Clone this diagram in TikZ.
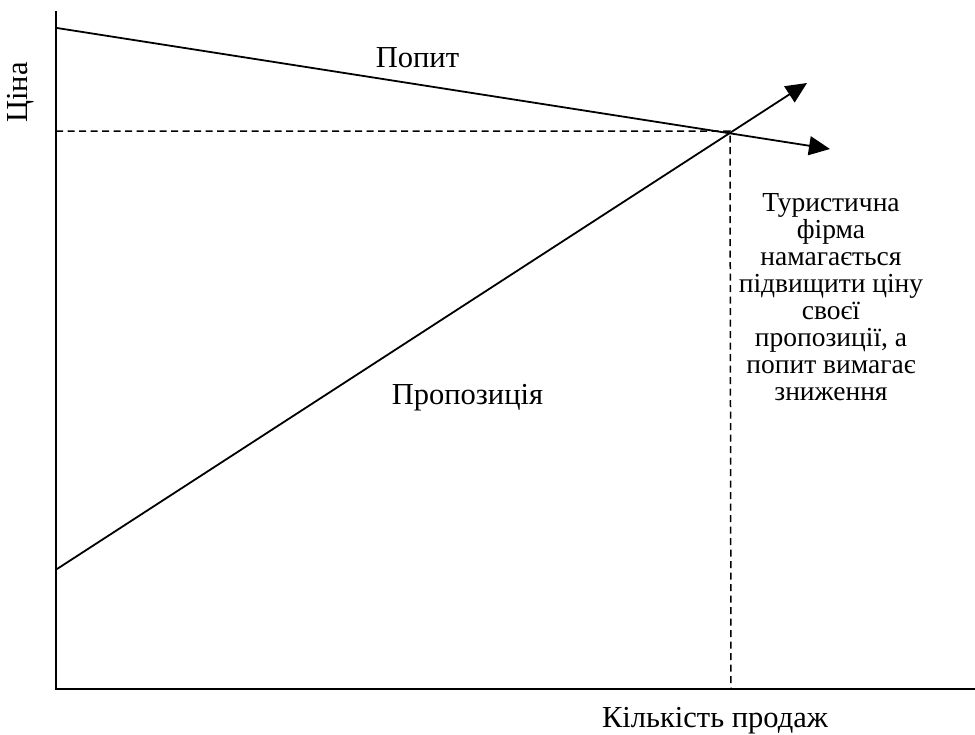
\documentclass[tikz,border=0pt]{standalone}
\usepackage{fontspec}
\setmainfont{Liberation Serif}
\usetikzlibrary{arrows.meta}
\tikzset{
  axis/.style={line width=2.2pt},
  curve/.style={line width=1.8pt, -{Triangle[length=21pt,width=19pt]}},
  guide/.style={line width=1.5pt, dash pattern=on 7pt off 4.5pt},
  lbl/.style={font=\fontsize{30.5}{31}\selectfont, inner sep=0pt},
  note/.style={font=\fontsize{27.5}{26.9}\selectfont, inner sep=0pt, align=center},
}
\begin{document}
\begin{tikzpicture}[x=1pt,y=-1pt]
  \useasboundingbox (0,0) rectangle (975,734);
  % axes
  \coordinate (ytop) at (56,11);
  \coordinate (orig) at (56,689);
  \coordinate (xend) at (975,689);
  \draw[axis] (ytop) -- (orig) -- (xend);
  % equilibrium point and its projections
  \coordinate (eq) at (730,131);
  \coordinate (eqy) at (56,131);
  \coordinate (eqx) at (731,689);
  \draw[guide] (eqy) -- (eq) -- (eqx);
  % demand and supply lines
  \coordinate (d0) at (57,28);
  \coordinate (d1) at (830,149);
  \coordinate (s0) at (57,569);
  \coordinate (s1) at (807,83);
  \draw[curve] (d0) -- (d1);
  \draw[curve] (s0) -- (s1);
  % labels
  \node[lbl] (demand) at (417.5,57.5) {Попит};
  \node[lbl] (supply) at (467.5,398) {Пропозиція};
  \node[lbl, rotate=90] (price) at (20.5,92.5) {Ціна};
  \node[lbl] (qty) at (715,721) {Кількість продаж};
  \node[note] (comment) at (831,297) {Туристична\\фірма\\намагається\\підвищити ціну\\своєї\\пропозиції, а\\попит вимагає\\зниження};
\end{tikzpicture}
\end{document}
